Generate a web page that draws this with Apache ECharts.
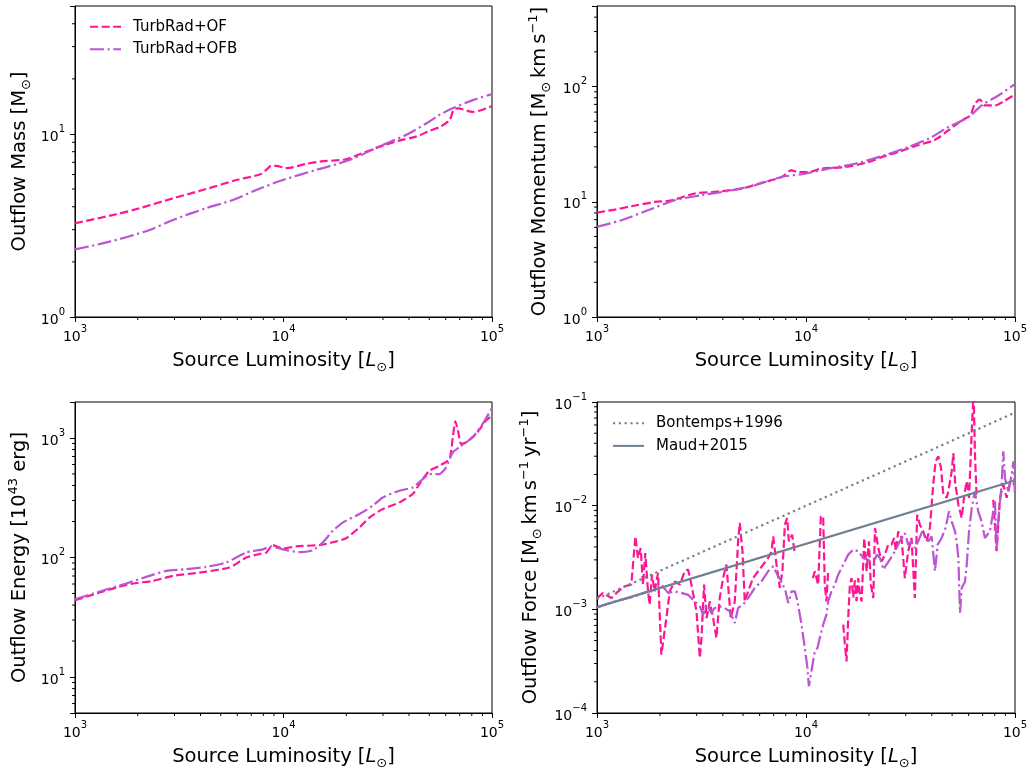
<!DOCTYPE html>
<html>
<head>
<meta charset="utf-8">
<script src="https://cdn.jsdelivr.net/npm/echarts@6/dist/echarts.min.js"></script>
<style>
html,body{margin:0;padding:0;background:#fff;}
#chart{width:1030px;height:771px;}
</style>
</head>
<body>
<div id="chart"></div>
<script>
// ---------------- data (Luminosity [Lsun], value) ----------------
const massOF = [[1000,3.25],[1578,3.64],[2042,3.93],[2951,4.45],[4256,5.0],[5929,5.6],[7674,6.0],[8260,6.36],[8730,6.7],[9230,6.7],[10300,6.5],[12850,6.86],[14890,7.06],[19950,7.27],[22700,7.68],[24890,8.0],[29920,8.63],[35940,9.2],[43250,9.67],[50120,10.4],[55980,10.9],[62520,11.9],[65380,13.5],[68550,13.8],[80790,13.2],[100000,14.2]];
const massOFB = [[1000,2.34],[1466,2.58],[2280,2.99],[2951,3.39],[4256,3.93],[5715,4.36],[7396,4.94],[9930,5.6],[14350,6.36],[20700,7.2],[29920,8.7],[38720,9.88],[48310,11.4],[55980,12.7],[64710,13.8],[80790,15.3],[100000,16.5]];

const momOF = [[1000,8.06],[1215,8.55],[1459,9.14],[1888,9.97],[2270,10.3],[2938,11.8],[3656,12.2],[4910,13.0],[6124,14.6],[7636,16.4],[8531,18.7],[9162,18.1],[10230,18.1],[11850,19.4],[15350,20.0],[19860,22.1],[23010,24.4],[27620,27.0],[33170,30.4],[41400,34.5],[47970,41.6],[55590,50.8],[60960,56.1],[64270,70.8],[67920,77.1],[71780,68.5],[80170,68.5],[89540,75.7],[100000,85.3]];
const momOFB = [[1000,6.05],[1308,6.92],[1754,8.44],[2355,10.3],[3160,11.4],[4236,12.4],[5688,13.9],[7636,16.4],[9868,17.5],[12760,19.4],[17140,21.4],[23010,24.9],[30830,29.8],[39900,36.4],[47970,44.5],[59840,54.2],[69180,68.5],[83180,83.6],[100000,105]];

const enOF = [[1000,43.9],[1313,50.9],[1578,56.1],[1897,60.6],[2365,63.7],[2951,70.2],[3953,74.8],[5508,82.4],[6622,100],[7674,107],[8260,110],[8891,127],[9930,119],[11500,124],[14890,127],[17220,134],[19950,145],[23110,178],[25820,216],[29920,254],[35940,289],[41690,340],[44870,412],[50120,532],[55980,586],[62520,666],[64860,1013],[66710,1380],[69180,1080],[70960,891],[74990,920],[83750,1080],[93540,1397],[100000,1540]];
const enOFB = [[1000,44.8],[1313,51.9],[1762,60.6],[2198,68.9],[2742,77.3],[3420,79.8],[4256,83.5],[5309,90.8],[6622,110],[7962,117],[8730,124],[9930,117],[11940,111],[13840,115],[15450,134],[17220,167],[19230,196],[23110,231],[26790,271],[29920,318],[35940,362],[41690,386],[46560,453],[50120,499],[55980,499],[60260,568],[64860,759],[69660,836],[80790,1013],[90160,1310],[100000,1781]];

const forceOF = [[1000,1.285e-3],[1069,1.44e-3],[1172,1.285e-3],[1262,1.49e-3],[1356,1.67e-3],[1459,1.73e-3],[1527,5.06e-3],[1571,3.13e-3],[1618,3.9e-3],[1660,1.73e-3],
[1703,3.49e-3],[1754,1.49e-3],[1786,1.11e-3],[1833,2.16e-3],[1888,1.49e-3],[1959,2.24e-3],[2032,3.66e-4],[2148,8.24e-4],[2228,1.49e-3],[2355,1.86e-3],
[2489,1.73e-3],[2630,2.33e-3],[2729,2.42e-3],[2831,1.73e-3],[2992,9.57e-4],[3105,3.4e-4],[3162,5.29e-4],[3253,1.73e-3],[3342,8.24e-4],[3467,1.19e-3],
[3593,8.24e-4],[3727,5.29e-4],[3866,1.285e-3],[4010,2.0e-3],[4159,2.7e-3],[4236,1.73e-3],[4365,8.24e-4],[4563,1.19e-3],[4733,4.53e-3],[4820,6.81e-3],
[4966,3.63e-3],[5093,1.19e-3],[5284,1.49e-3],[5580,2.0e-3],[5902,2.33e-3],[6237,2.7e-3],[6592,3.13e-3],[6839,3.63e-3],[6966,5.06e-3],[7228,2.7e-3],
[7499,1.61e-3],[7709,2.33e-3],[7925,6.56e-3],[8128,7.61e-3],[8279,4.53e-3],[8590,5.25e-3],[8851,3.37e-3],[9800,null],
[10790,2.0e-3],[11020,2.33e-3],[11430,1.73e-3],[11780,7.88e-3],[12080,7.88e-3],[12300,1.73e-3],[12530,1.19e-3],[12760,2.33e-3],[14000,null],
[15070,7.11e-4],[15350,4.56e-4],[15630,3.15e-4],[15920,8.24e-4],[16220,1.73e-3],[16520,2.0e-3],[16820,1.3e-3],[17140,1.9e-3],[17450,1.2e-3],[17780,2.0e-3],[18100,1.4e-3],[18450,1.19e-3],[19000,4.88e-3],
[19500,2.33e-3],[20000,4.53e-3],[20420,1.73e-3],[20990,1.285e-3],[21380,6.1e-3],[22180,3.9e-3],[23010,2.9e-3],[23850,3.37e-3],[24740,4.21e-3],[25660,4.21e-3],
[26420,4.88e-3],[26920,3.63e-3],[27620,5.65e-3],[28650,4.88e-3],[29720,2.0e-3],[30830,3.63e-3],[31980,4.88e-3],[33170,1.285e-3],[34040,8.18e-3],[35070,6.56e-3],
[36380,5.65e-3],[37740,4.53e-3],[39150,6.1e-3],[40610,1.6e-2],[41690,2.68e-2],[42950,2.99e-2],[44240,2.31e-2],[45390,1.28e-2],[47090,1.19e-2],[47970,1.37e-2],
[49770,2.14e-2],[50700,3.22e-2],[51640,1.72e-2],[53580,1.02e-2],[55590,7.61e-3],[57190,1.28e-2],[58750,1.72e-2],[60260,1.19e-2],[62090,5.21e-2],[63390,0.13],
[64270,3.34e-2],[65450,1.28e-2],[72000,null],
[78700,1.14e-2],[81660,3.63e-3],[84730,1.19e-2],[87910,1.6e-2],[91210,1.19e-2],[94640,1.66e-2],[100000,1.6e-2]];

const forceOFB = [[1000,1.045e-3],[1216,1.19e-3],[1514,1.33e-3],[1754,1.49e-3],[1888,1.55e-3],[2032,1.73e-3],[2188,1.44e-3],[2355,1.49e-3],[2535,1.44e-3],[2729,1.38e-3],
[2938,1.19e-3],[3105,1.07e-3],[3222,8.89e-4],[3342,1.11e-3],[3526,9.22e-4],[3658,1.03e-3],[3866,1.07e-3],[4085,1.03e-3],[4315,9.57e-4],[4563,7.38e-4],
[4733,1.03e-3],[5001,1.11e-3],[5284,1.285e-3],[5688,1.61e-3],[6124,1.86e-3],[6592,2.33e-3],[6966,2.6e-3],[7362,2.08e-3],[7636,1.86e-3],[7985,1.49e-3],
[8222,1.15e-3],[8531,1.49e-3],[8851,1.49e-3],[9109,1.19e-3],[9519,7.11e-4],[9868,4.24e-4],[10160,2.72e-4],[10320,1.81e-4],[10550,2.34e-4],[10740,2.92e-4],
[11020,3.93e-4],[11350,4.24e-4],[11640,5.29e-4],[12080,7.11e-4],[12530,8.89e-4],[12760,1.19e-3],[13240,1.49e-3],[13740,1.73e-3],[14260,2.16e-3],[15070,2.7e-3],
[15920,3.37e-3],[16830,3.77e-3],[17780,3.63e-3],[18790,3.13e-3],[19860,3.01e-3],[20990,2.7e-3],[21780,3.37e-3],[22600,3.13e-3],[23440,2.42e-3],[24270,2.7e-3],
[25180,3.01e-3],[26610,3.63e-3],[28130,4.53e-3],[29720,5.45e-3],[30830,4.21e-3],[31980,4.53e-3],[33170,3.9e-3],[34430,4.53e-3],[35970,5.65e-3],[37330,4.88e-3],
[38460,4.53e-3],[39900,5.06e-3],[41400,2.33e-3],[42660,4.21e-3],[44560,4.88e-3],[46560,6.1e-3],[48310,8.81e-3],[49770,7.06e-3],[51640,5.65e-3],[52600,4.53e-3],
[53580,3.13e-3],[54570,9.22e-4],[55590,1.61e-3],[57680,1.86e-3],[58750,2.7e-3],[60260,5.65e-3],[62090,9.48e-3],[64270,1.37e-2],[66680,8.81e-3],[69180,7.06e-3],
[71780,4.88e-3],[75860,5.65e-3],[78700,8.81e-3],[80170,1.1e-2],[81660,3.9e-3],[83180,7.06e-3],[86300,1.6e-2],[87910,3.34e-2],[89540,1.85e-2],[92900,1.37e-2],
[96390,1.99e-2],[98170,2.68e-2],[100000,1.28e-2]];

const bontemps1996 = [[1000,1.26e-3],[100000,7.9e-2]];
const maud2015 = [[1000,1.05e-3],[100000,1.75e-2]];

// axis ranges and minor tick values
const xRange = [1e3, 1e5];
const yRanges = [[1, 50], [1, 500], [5, 2000], [1e-4, 1e-1]];
const xMinorTicks = [2e3,3e3,4e3,5e3,6e3,7e3,8e3,9e3,2e4,3e4,4e4,5e4,6e4,7e4,8e4,9e4];
const yMinorTicks = [
  [2,3,4,5,6,7,8,9,20,30,40],
  [2,3,4,5,6,7,8,9,20,30,40,50,60,70,80,90,200,300,400],
  [6,7,8,9,20,30,40,50,60,70,80,90,200,300,400,500,600,700,800,900],
  [2e-4,3e-4,4e-4,5e-4,6e-4,7e-4,8e-4,9e-4,2e-3,3e-3,4e-3,5e-3,6e-3,7e-3,8e-3,9e-3,2e-2,3e-2,4e-2,5e-2,6e-2,7e-2,8e-2,9e-2]
];
const legendNames1 = ['TurbRad+OF', 'TurbRad+OFB'];
const legendNames4 = ['Bontemps+1996', 'Maud+2015'];
const xName = '{n|Source Luminosity [}{it|L}{sub|\u2299}{n|]}';
const yNames = [
  '{n|Outflow Mass [M}{sub|\u2299}{n|]}',
  '{n|Outflow Momentum [M}{sub|\u2299}{n|\u2009km\u2009s}{sup|\u22121}{n|]}',
  '{n|Outflow Energy [10}{sup|43}{n| erg]}',
  '{n|Outflow Force [M}{sub|\u2299}{n|\u2009km\u2009s}{sup|\u22121}{n|\u2009yr}{sup|\u22121}{n|]}'
];

// ---------------- styling ----------------
const FONT = 'DejaVu Sans';
const PINK = '#ff1493', PURPLE = '#ba55d3', GRAY = '#708090';
const grids = [
  {left: 75, top: 6, width: 417, height: 311},
  {left: 597, top: 6, width: 418, height: 311},
  {left: 75, top: 402, width: 417, height: 311},
  {left: 597, top: 402, width: 418, height: 311}
];
const yNameGap = [42, 44, 42, 53];

function powLabel(v) {
  const e = Math.log10(v);
  const r = Math.round(e);
  if (Math.abs(e - r) > 1e-6) return '';
  return '{b|10}{s|' + (r < 0 ? '\u2212' + (-r) : String(r)) + '}';
}
const tickRich = {
  b: {fontFamily: FONT, fontSize: 14, lineHeight: 20, verticalAlign: 'bottom', color: '#000'},
  s: {fontFamily: FONT, fontSize: 10, lineHeight: 10, verticalAlign: 'top', color: '#000'}
};
const nameRich = {
  n: {fontFamily: FONT, fontSize: 19.5, lineHeight: 26, verticalAlign: 'middle', color: '#000'},
  it: {fontFamily: FONT, fontSize: 19.5, lineHeight: 26, verticalAlign: 'middle', fontStyle: 'italic', color: '#000'},
  sub: {fontFamily: FONT, fontSize: 13, lineHeight: 14, verticalAlign: 'bottom', color: '#000'},
  sup: {fontFamily: FONT, fontSize: 13, lineHeight: 14, verticalAlign: 'top', color: '#000'}
};

const xAxes = grids.map((g, i) => ({
  type: 'log', logBase: 10, gridIndex: i, min: xRange[0], max: xRange[1],
  name: xName, nameLocation: 'middle', nameGap: 31, nameMoveOverlap: false,
  nameTextStyle: {rich: nameRich},
  axisLine: {show: true, onZero: false, lineStyle: {color: '#000', width: 1}},
  axisTick: {show: true, length: 5, inside: false, lineStyle: {color: '#000', width: 1}},
  axisLabel: {margin: 7, formatter: powLabel, rich: tickRich, showMinLabel: true, showMaxLabel: true, hideOverlap: false},
  splitLine: {show: false}, minorTick: {show: false}
}));
const yAxes = grids.map((g, i) => ({
  type: 'log', logBase: 10, gridIndex: i, min: yRanges[i][0], max: yRanges[i][1],
  name: yNames[i], nameLocation: 'middle', nameGap: yNameGap[i], nameRotate: 90, nameMoveOverlap: false,
  nameTextStyle: {rich: nameRich},
  axisLine: {show: true, onZero: false, lineStyle: {color: '#000', width: 1}},
  axisTick: {show: true, length: 5, inside: false, lineStyle: {color: '#000', width: 1}},
  axisLabel: {margin: 10, formatter: powLabel, rich: tickRich, hideOverlap: false},
  splitLine: {show: false}, minorTick: {show: false}
}));

function minorTickRender(params, api) {
  const p = api.coord([api.value(0), api.value(1)]);
  const isY = api.value(2) === 1;
  const len = 3;
  return {
    type: 'line',
    shape: isY ? {x1: p[0] - len, y1: p[1], x2: p[0], y2: p[1]} : {x1: p[0], y1: p[1], x2: p[0], y2: p[1] + len},
    style: {stroke: '#000', lineWidth: 1}
  };
}

const series = [];
function lineSeries(name, data, idx, color, dash, smooth) {
  return {
    type: 'line', name, data, xAxisIndex: idx, yAxisIndex: idx,
    symbol: 'none', showSymbol: false, smooth: smooth, connectNulls: false,
    lineStyle: {color, width: 2.2, type: dash}, itemStyle: {color},
    animation: false, silent: true
  };
}
const DASH = [8.1, 3.5], DASHDOT = [14, 3.5, 2.2, 3.5], DOT = [2.2, 3.6];
series.push(lineSeries('TurbRad+OF', massOF, 0, PINK, DASH, 0.3));
series.push(lineSeries('TurbRad+OFB', massOFB, 0, PURPLE, DASHDOT, 0.3));
series.push(lineSeries('TurbRad+OF', momOF, 1, PINK, DASH, 0.3));
series.push(lineSeries('TurbRad+OFB', momOFB, 1, PURPLE, DASHDOT, 0.3));
series.push(lineSeries('TurbRad+OF', enOF, 2, PINK, DASH, 0.2));
series.push(lineSeries('TurbRad+OFB', enOFB, 2, PURPLE, DASHDOT, 0.2));
series.push(lineSeries('TurbRad+OF', forceOF, 3, PINK, DASH, false));
series.push(lineSeries('TurbRad+OFB', forceOFB, 3, PURPLE, DASHDOT, false));
series.push(lineSeries('Bontemps+1996', bontemps1996, 3, GRAY, DOT, false));
series.push(lineSeries('Maud+2015', maud2015, 3, GRAY, 'solid', false));

grids.forEach((g, i) => {
  const data = [];
  xMinorTicks.forEach(v => data.push([v, yRanges[i][0], 0]));
  yMinorTicks[i].forEach(v => data.push([xRange[0], v, 1]));
  series.push({
    type: 'custom', xAxisIndex: i, yAxisIndex: i, data, clip: false, silent: true,
    encode: {x: 0, y: 1}, renderItem: minorTickRender, animation: false, z: 5
  });
});

const legendBase = {
  orient: 'vertical', itemWidth: 31, itemHeight: 16, itemGap: 6.6, padding: 0,
  selectedMode: false,
  itemStyle: {color: 'rgba(0,0,0,0)', borderColor: 'rgba(0,0,0,0)', borderWidth: 0, opacity: 0},
  textStyle: {fontFamily: FONT, fontSize: 15, lineHeight: 16, color: '#000', padding: [0, 0, 0, 7]}
};

const option = {
  backgroundColor: '#fff',
  animation: false,
  textStyle: {fontFamily: FONT},
  grid: grids.map(g => Object.assign({show: true, borderColor: '#000', borderWidth: 1, backgroundColor: 'transparent', containLabel: false, outerBoundsMode: 'none'}, g)),
  xAxis: xAxes,
  yAxis: yAxes,
  legend: [
    Object.assign({}, legendBase, {left: 89, top: 18.7, data: legendNames1}),
    Object.assign({}, legendBase, {left: 612, top: 415.3, data: legendNames4})
  ],
  series
};

const chart = echarts.init(document.getElementById('chart'), null, {renderer: 'canvas'});
chart.setOption(option);
</script>
</body>
</html>
